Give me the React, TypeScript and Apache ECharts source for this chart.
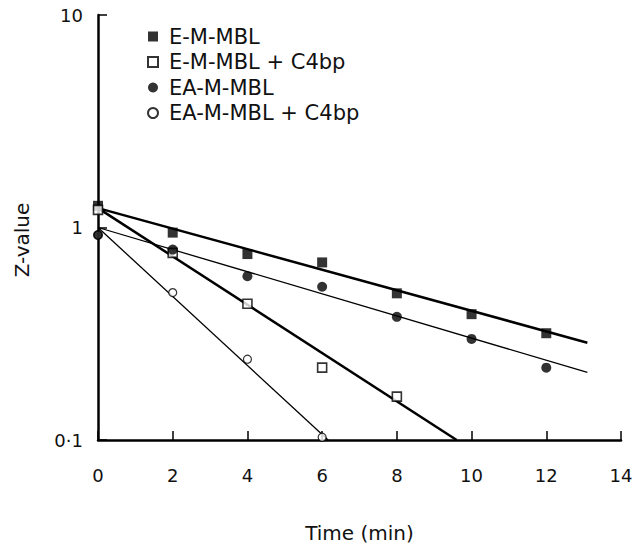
import React, { useEffect, useRef } from "react";
import * as echarts from "echarts";

// Time points (min)
const times = [0, 2, 4, 6, 8, 10, 12];
// Z-values
const eMBL = [1.265, 0.946, 0.75, 0.685, 0.49, 0.391, 0.318];
const eMBLC4 = [1.21, 0.76, 0.438, 0.219, 0.16];
const eaMBL = [0.922, 0.787, 0.59, 0.526, 0.38, 0.299, 0.219];
const eaMBLC4 = [0.922, 0.494, 0.24, 0.103];

// Fitted regression lines (end points)
const fitE = [[0, 1.234], [13.1, 0.287]];
const fitEC4 = [[0, 1.234], [9.6, 0.1]];
const fitEA = [[0, 1.0], [13.1, 0.208]];
const fitEAC4 = [[0, 1.0], [6.16, 0.1]];

const seriesNames = ["E-M-MBL", "E-M-MBL + C4bp", "EA-M-MBL", "EA-M-MBL + C4bp"];
const xTicks = { min: 0, max: 14, interval: 2 };
const yTicks = { min: 0.1, max: 10 };

const FONT = "DejaVu Sans";

const pair = (vals: number[]) => vals.map((v, i) => [times[i], v]);

export default function App() {
  const ref = useRef<HTMLDivElement>(null);
  useEffect(() => {
    document.body.style.margin = "0";
    const chart = echarts.init(ref.current!, null, { renderer: "svg" });
    const lineSeries = (data: number[][], width: number) => ({
      type: "line",
      data,
      symbol: "none",
      silent: true,
      lineStyle: { color: "#000", width },
      z: 1,
    });
    chart.setOption({
      animation: false,
      backgroundColor: "#fff",
      grid: { left: 98, right: 22, top: 15, bottom: 95, containLabel: false },
      legend: {
        data: seriesNames,
        orient: "vertical",
        left: 142,
        top: 21,
        itemWidth: 10,
        itemHeight: 10,
        itemGap: 4.5,
        textStyle: { fontFamily: FONT, fontSize: 21, color: "#111", lineHeight: 20, padding: [0, 0, 0, 6] },
      },
      xAxis: {
        type: "value",
        min: xTicks.min,
        max: xTicks.max,
        interval: xTicks.interval,
        name: "Time (min)",
        nameLocation: "middle",
        nameGap: 83,
        nameTextStyle: { fontFamily: FONT, fontSize: 20, color: "#111" },
        axisLine: { lineStyle: { color: "#000", width: 2.5 } },
        axisTick: { inside: true, length: 9, lineStyle: { color: "#000", width: 1.5 } },
        axisLabel: { fontFamily: FONT, fontSize: 18, color: "#111", margin: 26 },
        splitLine: { show: false },
      },
      yAxis: {
        type: "log",
        logBase: 10,
        min: yTicks.min,
        max: yTicks.max,
        axisLine: { show: true, lineStyle: { color: "#000", width: 2.5 } },
        axisTick: { show: true, inside: true, length: 9, lineStyle: { color: "#000", width: 1.5 } },
        minorTick: { show: false },
        axisLabel: {
          fontFamily: FONT,
          fontSize: 18,
          color: "#111",
          margin: 15,
          padding: [8, 0, 0, 0],
          formatter: (v: number) => (Math.abs(v - 0.1) < 1e-6 ? "0·1" : String(Math.round(v))),
        },
        splitLine: { show: false },
      },
      graphic: [
        {
          type: "text",
          x: 22,
          y: 240,
          rotation: Math.PI / 2,
          style: {
            text: "Z-value",
            fontFamily: FONT,
            fontSize: 20,
            fill: "#111",
            textAlign: "center",
            textVerticalAlign: "middle",
          },
        },
      ],
      series: [
        lineSeries(fitE, 2.5),
        lineSeries(fitEC4, 2.5),
        lineSeries(fitEA, 1.3),
        lineSeries(fitEAC4, 1.3),
        {
          name: seriesNames[0],
          type: "scatter",
          data: pair(eMBL),
          symbol: "rect",
          symbolSize: 10,
          itemStyle: { color: "#000" },
          z: 3,
        },
        {
          name: seriesNames[1],
          type: "scatter",
          data: pair(eMBLC4),
          symbol: "rect",
          symbolSize: 9,
          itemStyle: { color: "#fff", borderColor: "#000", borderWidth: 1.6 },
          z: 3,
        },
        {
          name: seriesNames[2],
          type: "scatter",
          data: pair(eaMBL),
          symbol: "circle",
          symbolSize: 10,
          itemStyle: { color: "#000" },
          z: 4,
        },
        {
          name: seriesNames[3],
          type: "scatter",
          data: pair(eaMBLC4),
          symbol: "circle",
          symbolSize: 8,
          itemStyle: { color: "#fff", borderColor: "#000", borderWidth: 1.2 },
          z: 3,
        },
      ],
    });
    return () => chart.dispose();
  }, []);
  return (
    <div
      ref={ref}
      style={{ position: "absolute", left: 0, top: 0, width: 643, height: 548 }}
    />
  );
}
